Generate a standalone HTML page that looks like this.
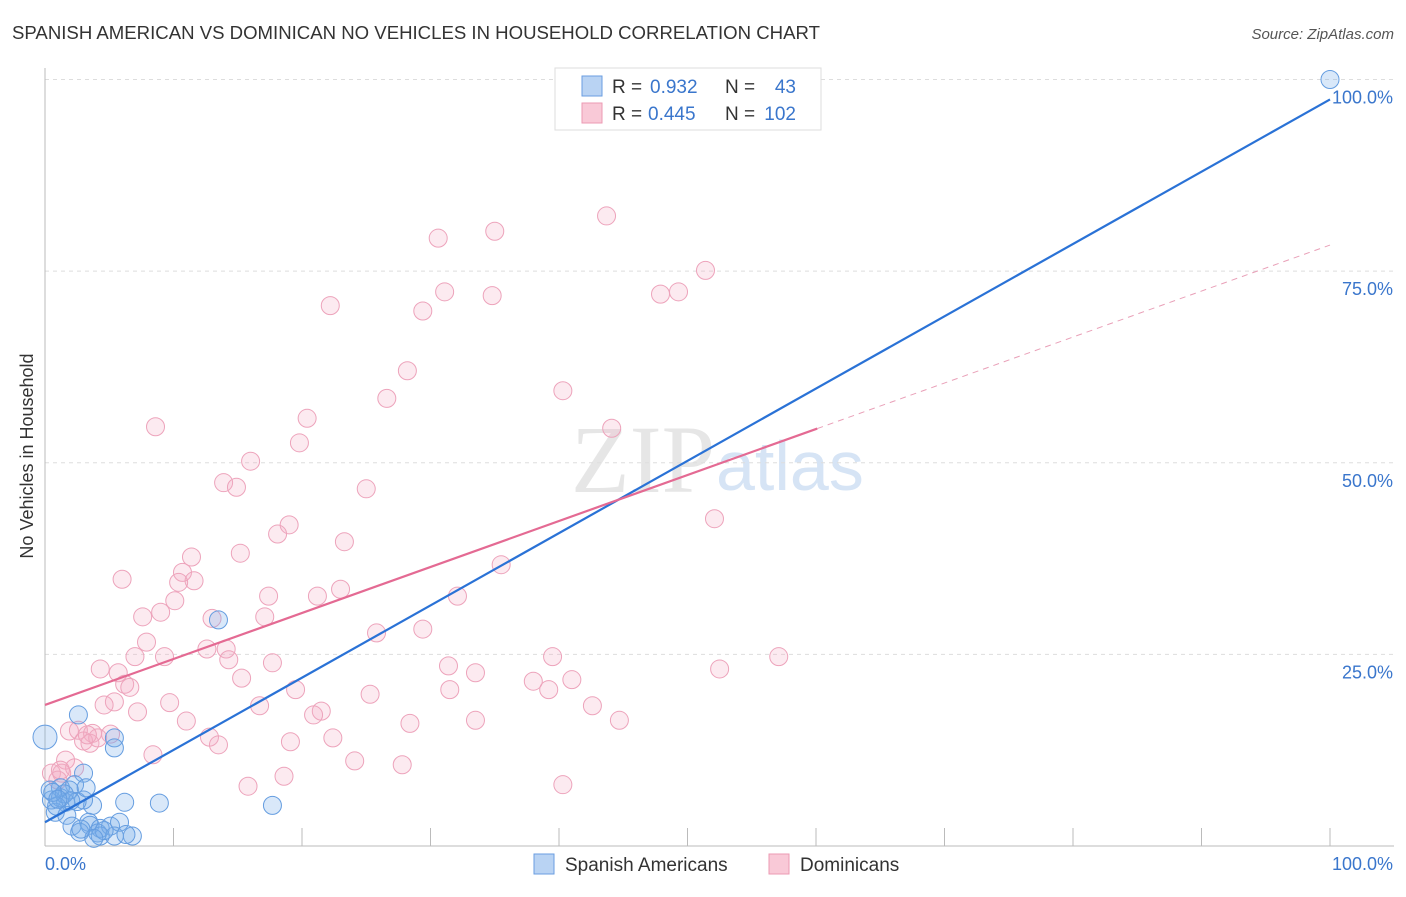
<!DOCTYPE html>
<html><head><meta charset="utf-8"><style>
body{margin:0;background:#fff;font-family:"Liberation Sans",sans-serif;}
</style></head><body>
<svg width="1406" height="892" xmlns="http://www.w3.org/2000/svg">
<text x="12" y="39" font-size="18.6" fill="#333">SPANISH AMERICAN VS DOMINICAN NO VEHICLES IN HOUSEHOLD CORRELATION CHART</text>
<text x="1394" y="39" font-size="15" fill="#555" font-style="italic" text-anchor="end">Source: ZipAtlas.com</text>
<text x="715" y="492" font-size="96" font-family="Liberation Serif,serif" fill="#e6e6e6" text-anchor="end">ZIP</text>
<text x="716" y="490" font-size="70" fill="#d6e4f5">atlas</text>
<g id="grid"></g>
<g id="axes"></g>
<g id="pts"></g>
<g id="lines"></g>
<text x="33" y="456" font-size="18" fill="#333" transform="rotate(-90 33 456)" text-anchor="middle">No Vehicles in Household</text>
<g font-size="19">
<rect x="555" y="68" width="266" height="62" fill="#fff" stroke="#ddd"/>
<rect x="582" y="76" width="20" height="20" fill="#b9d3f3" stroke="#6a9ee0"/>
<rect x="582" y="103" width="20" height="20" fill="#f9c9d7" stroke="#ec9ab3"/>
<text x="612" y="93" fill="#333">R =</text><text x="650" y="93" fill="#3a76cc">0.932</text>
<text x="725" y="93" fill="#333">N =</text><text x="796" y="93" fill="#3a76cc" text-anchor="end">43</text>
<text x="612" y="120" fill="#333">R =</text><text x="648" y="120" fill="#3a76cc">0.445</text>
<text x="725" y="120" fill="#333">N =</text><text x="796" y="120" fill="#3a76cc" text-anchor="end">102</text>
</g>
<g>
<rect x="534" y="854" width="20" height="20" fill="#b9d3f3" stroke="#6a9ee0"/>
<text x="565" y="871" font-size="19" fill="#333">Spanish Americans</text>
<rect x="769" y="854" width="20" height="20" fill="#f9c9d7" stroke="#ec9ab3"/>
<text x="800" y="871" font-size="19" fill="#333">Dominicans</text>
</g>
</svg>
<script>
const yTicks=[25,50,75,100];
const xTickLabels=["0.0%","100.0%"];
const blueX=[100,0,2.6,5.4,5.4,13.5,17.7,8.9,6.2,3,2.3,1.2,0.5,1.6,3.7,3,0.8,1.7,2.1,3.4,3.5,4.3,4.1,5.1,5.8,6.8,2.7,5.4,4.3,1.2,1.9,0.4,2.5,1.5,0.9,3.2,4.6,2.0,6.3,0.6,1.0,3.8,2.8];
const blueY=[100,14.2,17.1,14.1,12.8,29.5,5.3,5.6,5.7,9.5,8,7.6,6,5.7,5.3,6,4.4,4,2.6,3.1,2.7,2.3,1.7,2.6,3.1,1.3,1.8,1.3,1.3,6.3,7.3,7.3,5.8,6.8,5.2,7.6,2.0,5.9,1.5,7.0,6.1,1.0,2.2];
const pinkPx=[[606,216],[438,238],[495,231],[706,270],[444,292],[492,296],[660,294],[678,292],[330,306],[423,311],[407,371],[387,398],[307,418],[563,391],[612,428],[155,427],[299,443],[251,461],[223,483],[236,487],[366,489],[715,519],[289,525],[278,534],[344,542],[240,553],[191,557],[501,565],[183,572],[122,579],[194,581],[179,582],[457,596],[269,596],[341,589],[317,596],[161,612],[175,601],[143,617],[265,617],[212,618],[377,633],[423,629],[147,642],[207,649],[226,649],[135,657],[165,657],[229,660],[552,657],[779,657],[273,663],[448,666],[100,669],[476,673],[719,669],[118,673],[241,678],[533,681],[572,680],[125,684],[130,687],[295,690],[450,690],[549,690],[370,694],[170,703],[114,702],[104,705],[259,706],[593,706],[138,712],[321,711],[313,715],[186,721],[410,723],[475,720],[619,720],[70,731],[78,730],[92,733],[110,734],[210,737],[84,741],[90,743],[333,738],[290,742],[218,745],[153,755],[65,760],[355,761],[74,768],[402,765],[52,773],[62,773],[58,780],[284,776],[248,786],[563,785],[60,770],[98,738],[88,735]];
const pinkX=pinkPx.map(p=>+((p[0]-45)/12.85).toFixed(1));
const pinkY=pinkPx.map(p=>+((846-p[1])/7.665).toFixed(1));
const blueFit=[3.1,97.4];
const pinkFit=[18.4,0.6,60.1];
const NS="http://www.w3.org/2000/svg";
const X=v=>45+v*12.85, Y=v=>846-v*7.665;
function mk(tag,attrs,parent){const e=document.createElementNS(NS,tag);for(const k in attrs)e.setAttribute(k,attrs[k]);document.getElementById(parent).appendChild(e);return e;}
yTicks.forEach(t=>{
 const l=mk('line',{x1:45,x2:1394,y1:Y(t),y2:Y(t),stroke:'#ddd','stroke-dasharray':'4,4'},'grid');
 
 
 const tx=mk('text',{x:1393,y:Y(t)+24,'font-size':18,fill:'#3a76cc','text-anchor':'end'},'grid');
 tx.textContent=t.toFixed(1)+'%';
 
 
});
mk('line',{x1:45,x2:45,y1:68,y2:846,stroke:'#bbb'},'axes');
mk('line',{x1:45,x2:1394,y1:846,y2:846,stroke:'#bbb'},'axes');
for(let i=1;i<=10;i++){const t=mk('line',{x1:X(i*10),x2:X(i*10),y1:828,y2:846,stroke:'#bbb'},'axes');
 
 }
[[0,'start',45],[100,'end',1393]].forEach((d,i)=>{const t=mk('text',{x:d[2],y:870,'font-size':18,fill:'#3a76cc','text-anchor':d[1]},'axes');t.textContent=xTickLabels[i];
 
 });
pinkX.forEach((x,i)=>{const c=mk('circle',{cx:X(x),cy:Y(pinkY[i]),r:9,fill:'rgba(245,170,196,0.25)',stroke:'#eda3bb','stroke-width':1},'pts');
 
 });
blueX.forEach((x,i)=>{const c=mk('circle',{cx:X(x),cy:Y(blueY[i]),r:(i==1?12:9),fill:'rgba(120,172,232,0.28)',stroke:'#659de0','stroke-width':1},'pts');
 
 });
let l=mk('line',{x1:X(0),y1:Y(blueFit[0]),x2:X(100),y2:Y(blueFit[1]),stroke:'#2a72d6','stroke-width':2.2},'lines');


l=mk('line',{x1:X(0),y1:Y(pinkFit[0]),x2:X(pinkFit[2]),y2:Y(pinkFit[0]+pinkFit[1]*pinkFit[2]),stroke:'#e46a93','stroke-width':2.2},'lines');


l=mk('line',{x1:X(pinkFit[2]),y1:Y(pinkFit[0]+pinkFit[1]*pinkFit[2]),x2:X(100),y2:Y(pinkFit[0]+pinkFit[1]*100),stroke:'#e9a0b8','stroke-width':1,'stroke-dasharray':'6,5'},'lines');


</script>
</body></html>
